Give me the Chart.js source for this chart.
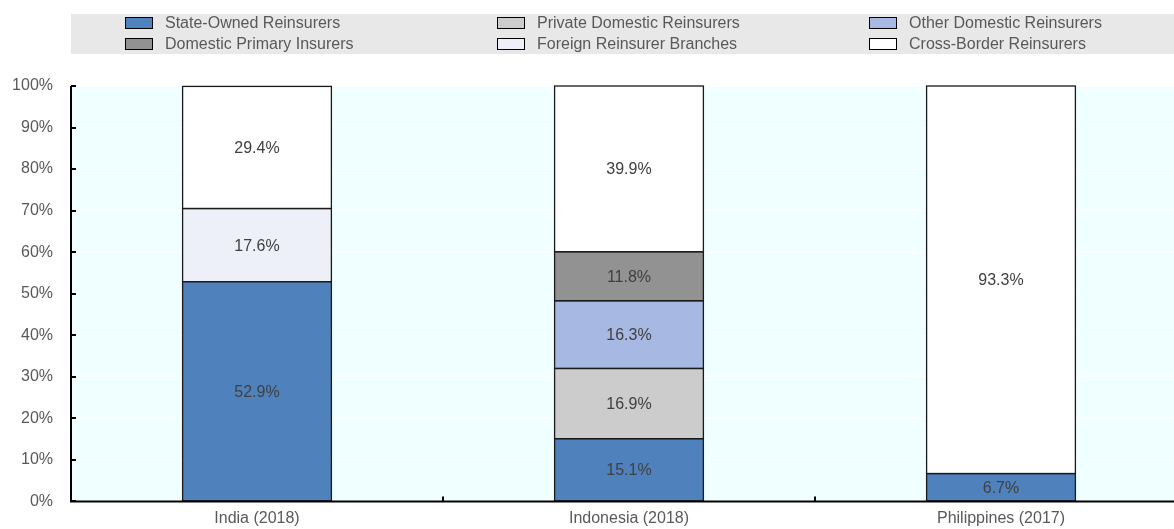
<!DOCTYPE html>
<html>
<head>
<meta charset="utf-8">
<script src="https://cdn.jsdelivr.net/npm/chart.js@4"></script>
<style>
  html, body { margin: 0; padding: 0; background: #fff; overflow: hidden; }
  #wrap { width: 1187px; height: 529px; }
</style>
</head>
<body>
<div id="wrap"><canvas id="reinsChart" width="1187" height="529"></canvas></div>
<script>
// ## REINSURANCE MARKET SHARE ##

const countries = ["India (2018)", "Indonesia (2018)", "Philippines (2017)"];
const yTicks = [0, 10, 20, 30, 40, 50, 60, 70, 80, 90, 100];

const seriesNames = [
  "State-Owned Reinsurers",
  "Private Domestic Reinsurers",
  "Other Domestic Reinsurers",
  "Domestic Primary Insurers",
  "Foreign Reinsurer Branches",
  "Cross-Border Reinsurers",
];
const seriesColors = ["#4F81BD", "#CCCCCC", "#A7B9E3", "#929292", "#EDF0F8", "#FFFFFF"];

const stateOwned = [52.9, 15.1, 6.7];
const privateDomestic = [null, 16.9, null];
const otherDomestic = [null, 16.3, null];
const domesticPrimary = [null, 11.8, null];
const foreignBranches = [17.6, null, null];
const crossBorder = [29.4, 39.9, 93.3];

const seriesValues = [stateOwned, privateDomestic, otherDomestic, domesticPrimary, foreignBranches, crossBorder];

const FONT = "'Liberation Sans Narrow', 'Arial Narrow', 'Liberation Sans', Arial, sans-serif";

// legend drawn in a fixed 3-column grid like the original
const legendPlugin = {
  id: "gridLegend",
  beforeDraw(chart) {
    const ctx = chart.ctx;
    ctx.save();
    ctx.fillStyle = "#E8E8E8";
    ctx.fillRect(71, 14, 1103, 40);
    const colX = [125, 497, 869];
    const rowY = [23, 44];
    chart.data.datasets.forEach((ds, i) => {
      const col = i % 3;
      const row = Math.floor(i / 3);
      const x = colX[col];
      const y = rowY[row];
      ctx.fillStyle = ds.backgroundColor;
      ctx.fillRect(x, y - 6, 28, 12);
      ctx.strokeStyle = "#000";
      ctx.lineWidth = 1;
      ctx.strokeRect(x + 0.5, y - 5.5, 27, 11);
      ctx.fillStyle = "#595959";
      ctx.font = "16px " + FONT;
      ctx.textBaseline = "middle";
      ctx.textAlign = "left";
      ctx.fillText(ds.label, x + 40, y + 1);
    });
    ctx.restore();
  },
};

const plotPlugin = {
  id: "plotBg",
  beforeDraw(chart) {
    const { ctx, chartArea } = chart;
    ctx.save();
    ctx.fillStyle = "#F0FFFF";
    ctx.fillRect(chartArea.left, chartArea.top, chartArea.right - chartArea.left, chartArea.bottom - chartArea.top);
    ctx.restore();
  },
  afterDatasetsDraw(chart) {
    const { ctx, chartArea, scales } = chart;
    ctx.save();
    // single-line outlines around each segment
    ctx.strokeStyle = "#1a1a1a";
    ctx.lineWidth = 1.3;
    chart.data.datasets.forEach((ds, i) => {
      chart.getDatasetMeta(i).data.forEach((bar, j) => {
        if (ds.data[j] == null) return;
        const left = bar.x - bar.width / 2;
        const top = Math.min(bar.y, bar.base);
        const h = Math.abs(bar.base - bar.y);
        ctx.strokeRect(left, top, bar.width, h);
      });
    });
    // bar value labels
    ctx.font = "16px " + FONT;
    ctx.fillStyle = "#404040";
    ctx.textAlign = "center";
    ctx.textBaseline = "middle";
    chart.data.datasets.forEach((ds, i) => {
      chart.getDatasetMeta(i).data.forEach((bar, j) => {
        const v = ds.data[j];
        if (v == null) return;
        const mid = (bar.y + bar.base) / 2;
        ctx.fillText(v.toFixed(1) + "%", bar.x, mid + 1);
      });
    });
    // axes
    ctx.strokeStyle = "#000";
    ctx.lineWidth = 2;
    ctx.beginPath();
    ctx.moveTo(chartArea.left, chartArea.top);
    ctx.lineTo(chartArea.left, chartArea.bottom);
    ctx.lineTo(chartArea.right, chartArea.bottom);
    ctx.stroke();
    // y tick marks pointing into the plot
    yTicks.forEach((t) => {
      const y = Math.round(scales.y.getPixelForValue(t));
      ctx.beginPath();
      ctx.moveTo(chartArea.left, y);
      ctx.lineTo(chartArea.left + 5, y);
      ctx.stroke();
    });
    // x tick marks between categories
    for (let k = 1; k < countries.length; k++) {
      const x = Math.round((scales.x.getPixelForValue(k - 1) + scales.x.getPixelForValue(k)) / 2);
      ctx.beginPath();
      ctx.moveTo(x, chartArea.bottom);
      ctx.lineTo(x, chartArea.bottom - 5);
      ctx.stroke();
    }
    ctx.restore();
  },
};

const ctx = document.getElementById("reinsChart").getContext("2d");
window.reinsChart = new Chart(ctx, {
  type: "bar",
  data: {
    labels: countries,
    datasets: seriesNames.map((name, i) => ({
      label: name,
      data: seriesValues[i],
      backgroundColor: seriesColors[i],
      borderWidth: 0,
      barPercentage: 0.4,
      categoryPercentage: 1,
    })),
  },
  options: {
    responsive: false,
    animation: false,
    layout: { padding: { top: 86, left: 0, right: 0, bottom: 0 } },
    plugins: {
      legend: { display: false },
      tooltip: { enabled: false },
    },
    scales: {
      x: {
        stacked: true,
        grid: { display: false, drawTicks: false },
        border: { display: false },
        ticks: {
          color: "#595959",
          font: { family: FONT, size: 16 },
          padding: 8,
        },
        afterFit(scale) {
          scale.height = 27;
        },
      },
      y: {
        stacked: true,
        min: 0,
        max: 100,
        afterBuildTicks(scale) {
          scale.ticks = yTicks.map((v) => ({ value: v }));
        },
        grid: { color: "#FFFFFF", lineWidth: 1, drawTicks: false },
        border: { display: false },
        ticks: {
          color: "#595959",
          font: { family: FONT, size: 16 },
          padding: 18,
          callback: (v) => v + "%",
        },
        afterFit(scale) {
          scale.width = 71;
        },
      },
    },
  },
  plugins: [plotPlugin, legendPlugin],
});
</script>
</body>
</html>
